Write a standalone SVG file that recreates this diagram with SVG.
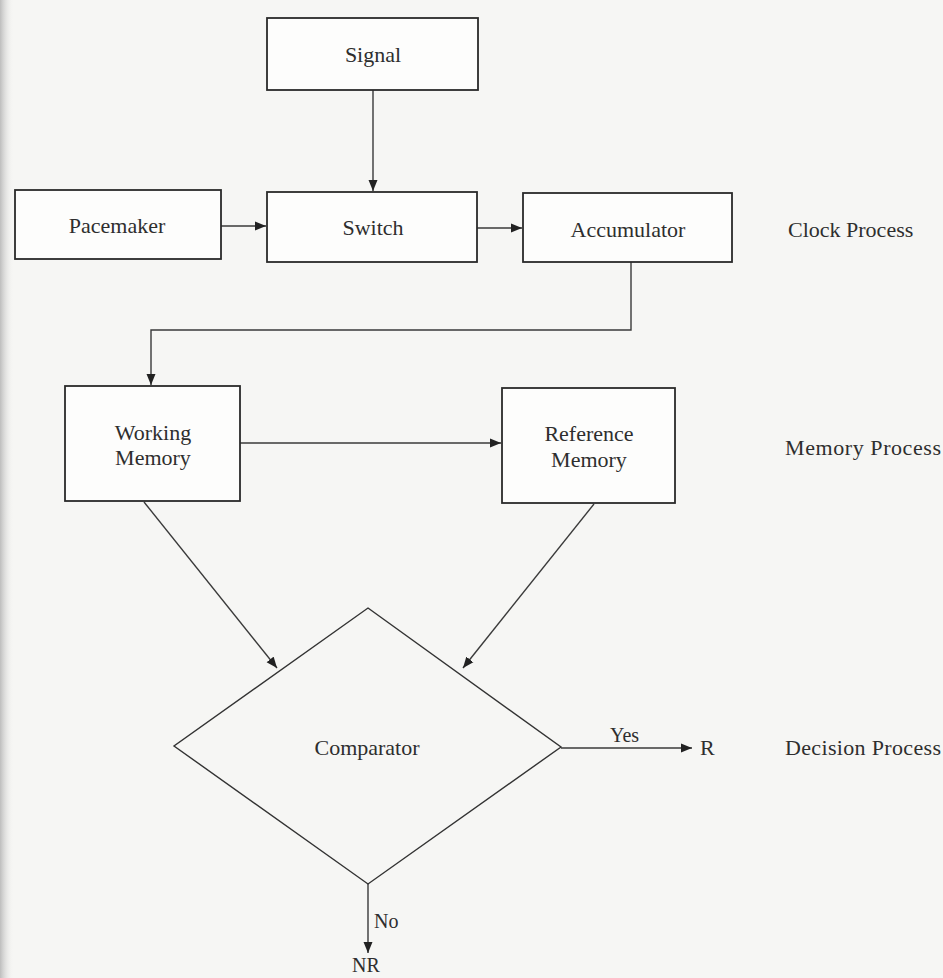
<svg xmlns="http://www.w3.org/2000/svg" width="943" height="978" viewBox="0 0 943 978">
<style>
.box{fill:#fdfdfc;stroke:#2a2a2a;stroke-width:1.8}
.dia{fill:none;stroke:#333;stroke-width:1.4}
.lbl{font-family:"Liberation Serif","Times New Roman",serif;font-size:22px;fill:#2e2e2e;text-anchor:middle}
.side{font-family:"Liberation Serif","Times New Roman",serif;font-size:22px;fill:#2e2e2e}
.small{font-family:"Liberation Serif","Times New Roman",serif;font-size:20px;fill:#2e2e2e}
.con{fill:none;stroke:#3a3a3a;stroke-width:1.4;marker-end:url(#ah)}
</style>
<defs>
<marker id="ah" markerUnits="userSpaceOnUse" markerWidth="12" markerHeight="10" refX="11" refY="5" orient="auto">
<path d="M0,0.5 L11,5 L0,9.5 Z" fill="#222"/>
</marker>
<linearGradient id="edge" x1="0" y1="0" x2="1" y2="0">
<stop offset="0" stop-color="#bdbdbd"/>
<stop offset="1" stop-color="#f6f6f4" stop-opacity="0"/>
</linearGradient>
</defs>
<rect x="0" y="0" width="943" height="978" fill="#f6f6f4"/>
<rect x="0" y="0" width="14" height="978" fill="url(#edge)"/>

<g id="connectors">
<line class="con" x1="373" y1="90" x2="373" y2="191"/>
<line class="con" x1="221" y1="226" x2="266" y2="226"/>
<line class="con" x1="477" y1="228" x2="522" y2="228"/>
<polyline class="con" points="631,262 631,330 151,330 151,385"/>
<line class="con" x1="240" y1="443" x2="501" y2="443"/>
<line class="con" x1="144" y1="502" x2="277" y2="668"/>
<line class="con" x1="594" y1="504" x2="463" y2="668"/>
<line class="con" x1="561" y1="748" x2="692" y2="748"/>
<line class="con" x1="368" y1="884" x2="368" y2="953"/>
</g>

<g id="signal">
<rect class="box" x="267" y="18" width="211" height="72"/>
<text class="lbl" x="373" y="62">Signal</text>
</g>
<g id="pacemaker">
<rect class="box" x="15" y="190" width="206" height="69"/>
<text class="lbl" x="117" y="233">Pacemaker</text>
</g>
<g id="switch">
<rect class="box" x="267" y="192" width="210" height="70"/>
<text class="lbl" x="373" y="235">Switch</text>
</g>
<g id="accumulator">
<rect class="box" x="523" y="193" width="209" height="69"/>
<text class="lbl" x="628" y="237">Accumulator</text>
</g>
<g id="working-memory">
<rect class="box" x="65" y="386" width="175" height="115"/>
<text class="lbl" x="153" y="440">Working</text>
<text class="lbl" x="153" y="465">Memory</text>
</g>
<g id="reference-memory">
<rect class="box" x="502" y="388" width="173" height="115"/>
<text class="lbl" x="589" y="441">Reference</text>
<text class="lbl" x="589" y="467">Memory</text>
</g>
<g id="comparator">
<polygon class="dia" points="368,608 561,747 368,884 174,746"/>
<text class="lbl" x="367" y="755">Comparator</text>
</g>
<g id="r-node">
<text class="side" x="700" y="755">R</text>
</g>
<g id="nr-node">
<text class="small" x="366" y="972" text-anchor="middle">NR</text>
</g>
<g id="edge-labels">
<text class="small" x="610" y="742">Yes</text>
<text class="small" x="374" y="928">No</text>
</g>
<g id="process-labels">
<text class="side" x="788" y="237">Clock Process</text>
<text class="side" x="785" y="455" textLength="156">Memory Process</text>
<text class="side" x="785" y="755" textLength="156">Decision Process</text>
</g>
</svg>
